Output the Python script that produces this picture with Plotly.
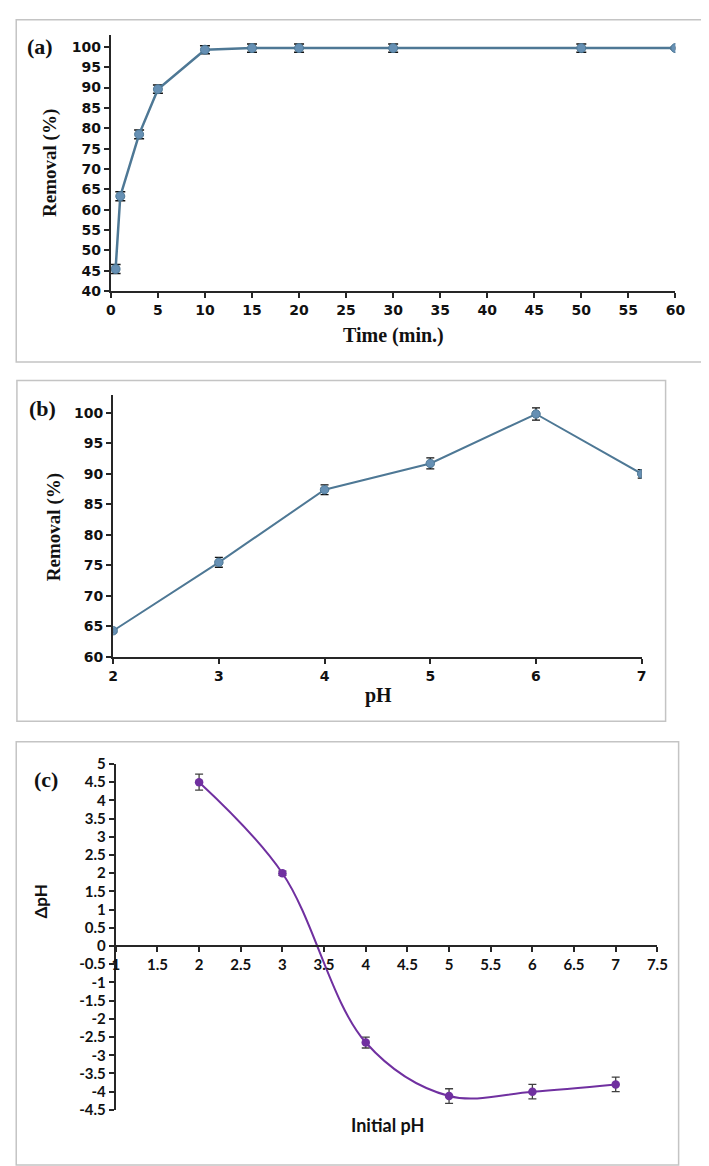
import plotly.graph_objects as go

# ---------------- data ----------------
time_min = [0.5, 1, 3, 5, 10, 15, 20, 30, 50, 60]
removal_time = [45.4, 63.3, 78.5, 89.6, 99.3, 99.7, 99.7, 99.7, 99.7, 99.7]
removal_time_err = [1.1, 1.1, 1.1, 1.0, 1.0, 1.0, 1.0, 1.0, 1.0, 0.2]

ph_values = [2, 3, 4, 5, 6, 7]
removal_ph = [64.3, 75.5, 87.4, 91.7, 99.8, 90.0]
removal_ph_err = [0.3, 0.8, 0.8, 0.9, 1.0, 0.7]

initial_ph = [2, 3, 4, 5, 6, 7]
delta_ph = [4.5, 2.0, -2.65, -4.12, -4.0, -3.8]
delta_ph_err = [0.22, 0.06, 0.15, 0.2, 0.2, 0.2]

a_xticks = [0, 5, 10, 15, 20, 25, 30, 35, 40, 45, 50, 55, 60]
a_yticks = [40, 45, 50, 55, 60, 65, 70, 75, 80, 85, 90, 95, 100]
b_xticks = [2, 3, 4, 5, 6, 7]
b_yticks = [60, 65, 70, 75, 80, 85, 90, 95, 100]
c_xticks = [1, 1.5, 2, 2.5, 3, 3.5, 4, 4.5, 5, 5.5, 6, 6.5, 7, 7.5]
c_xtext = ["1", "1.5", "2", "2.5", "3", "3.5", "4", "4.5", "5", "5.5", "6", "6.5", "7", "7.5"]
c_yticks = [-4.5, -4, -3.5, -3, -2.5, -2, -1.5, -1, -0.5, 0, 0.5, 1, 1.5, 2, 2.5, 3, 3.5, 4, 4.5, 5]
c_ytext = ["-4.5", "-4", "-3.5", "-3", "-2.5", "-2", "-1.5", "-1", "-0.5", "0", "0.5", "1",
           "1.5", "2", "2.5", "3", "3.5", "4", "4.5", "5"]

# ---------------- layout helpers ----------------
W, H = 709, 1166


def px(x):
    return x / W


def py(y):
    return 1 - y / H


BLUE_LINE = "#4e7895"
BLUE_MARK = "#6690b4"
PURPLE = "#7030a0"
AXIS = "#262626"
BORDER = "#c4c4c4"
TICKFONT_AB = dict(family="DejaVu Sans", size=14, color="#111111", weight="bold")
TICKFONT_C = dict(family="Lato", size=15, color="#111111", weight="bold")
SERIF_B = dict(family="Liberation Serif", color="#111111", weight="bold")

fig = go.Figure()

fig.add_trace(go.Scatter(
    x=time_min, y=removal_time, mode="lines+markers",
    line=dict(color=BLUE_LINE, width=2.5),
    marker=dict(color=BLUE_MARK, size=9, line=dict(color=BLUE_LINE, width=1)),
    error_y=dict(type="data", array=removal_time_err, color="#111111", thickness=1.5, width=5),
    xaxis="x", yaxis="y", showlegend=False,
))

fig.add_trace(go.Scatter(
    x=ph_values, y=removal_ph, mode="lines+markers",
    line=dict(color=BLUE_LINE, width=2),
    marker=dict(color=BLUE_MARK, size=8.5, line=dict(color=BLUE_LINE, width=1)),
    error_y=dict(type="data", array=removal_ph_err, color="#111111", thickness=1.3, width=4),
    xaxis="x2", yaxis="y2", showlegend=False,
))

fig.add_trace(go.Scatter(
    x=initial_ph, y=delta_ph, mode="lines+markers",
    line=dict(color=PURPLE, width=2, shape="spline", smoothing=1),
    marker=dict(color=PURPLE, size=8.5),
    error_y=dict(type="data", array=delta_ph_err, color="#404040", thickness=1.3, width=4),
    xaxis="x3", yaxis="y3", showlegend=False,
))

common_axis = dict(showline=True, linecolor=AXIS, linewidth=2, ticks="outside",
                   tickcolor=AXIS, tickwidth=1.5, ticklen=5, showgrid=False,
                   zeroline=False)

fig.update_layout(
    width=W, height=H, margin=dict(l=0, r=0, t=0, b=0),
    paper_bgcolor="white", plot_bgcolor="rgba(0,0,0,0)",
    xaxis=dict(domain=[px(100), px(676.7)], range=[0, 60], anchor="y",
               tickvals=a_xticks, tickfont=TICKFONT_AB, **common_axis),
    yaxis=dict(domain=[py(277.3), py(17)], range=[40, 102.98], anchor="x",
               tickvals=a_yticks, tickfont=TICKFONT_AB, **common_axis),
    xaxis2=dict(domain=[px(102.3), px(642.3)], range=[2, 7], anchor="y2",
                tickvals=b_xticks, tickfont=TICKFONT_AB, **common_axis),
    yaxis2=dict(domain=[py(649), py(383.3)], range=[60, 102.85], anchor="x2",
                tickvals=b_yticks, tickfont=TICKFONT_AB, **common_axis),
    xaxis3=dict(domain=[px(105), px(658.3)], range=[1, 7.5], anchor="free",
                position=py(942.7), tickvals=c_xticks, ticktext=c_xtext,
                tickfont=TICKFONT_C, **common_axis),
    yaxis3=dict(domain=[py(1109), py(757.7)], range=[-4.5, 5], anchor="x3",
                tickvals=c_yticks, ticktext=c_ytext, tickfont=TICKFONT_C, **common_axis),
)

# panel borders
for (x0, y0, x1, y1) in [(3.3, 1.7, 705, 349.3), (4, 368.3, 666.7, 714.3), (3.3, 735, 680, 1165)]:
    fig.add_shape(type="rect", xref="paper", yref="paper",
                  x0=px(x0), x1=px(x1), y0=py(y1), y1=py(y0),
                  line=dict(color=BORDER, width=1.5), fillcolor="rgba(0,0,0,0)")


def note(text, x, y, font, angle=0):
    fig.add_annotation(text=text, x=px(x), y=py(y), xref="paper", yref="paper",
                       showarrow=False, xanchor="center", yanchor="middle",
                       font=font, textangle=angle)


note("(a)", 28, 29, dict(SERIF_B, size=22))
note("Removal (%)", 38, 147, dict(SERIF_B, size=19), -90)
note("Time (min.)", 389, 322, dict(SERIF_B, size=20))

note("(b)", 30, 397, dict(SERIF_B, size=22))
note("Removal (%)", 42, 517, dict(SERIF_B, size=19), -90)
note("pH", 373, 688, dict(SERIF_B, size=20))

note("(c)", 34, 773, dict(SERIF_B, size=22))
note("\u0394pH", 28, 897, dict(family="Lato", size=17, color="#111111", weight="bold"), -90)
note("Initial pH", 383, 1124, dict(family="Lato", size=18, color="#111111", weight="bold"))

fig.write_html("out.html")
